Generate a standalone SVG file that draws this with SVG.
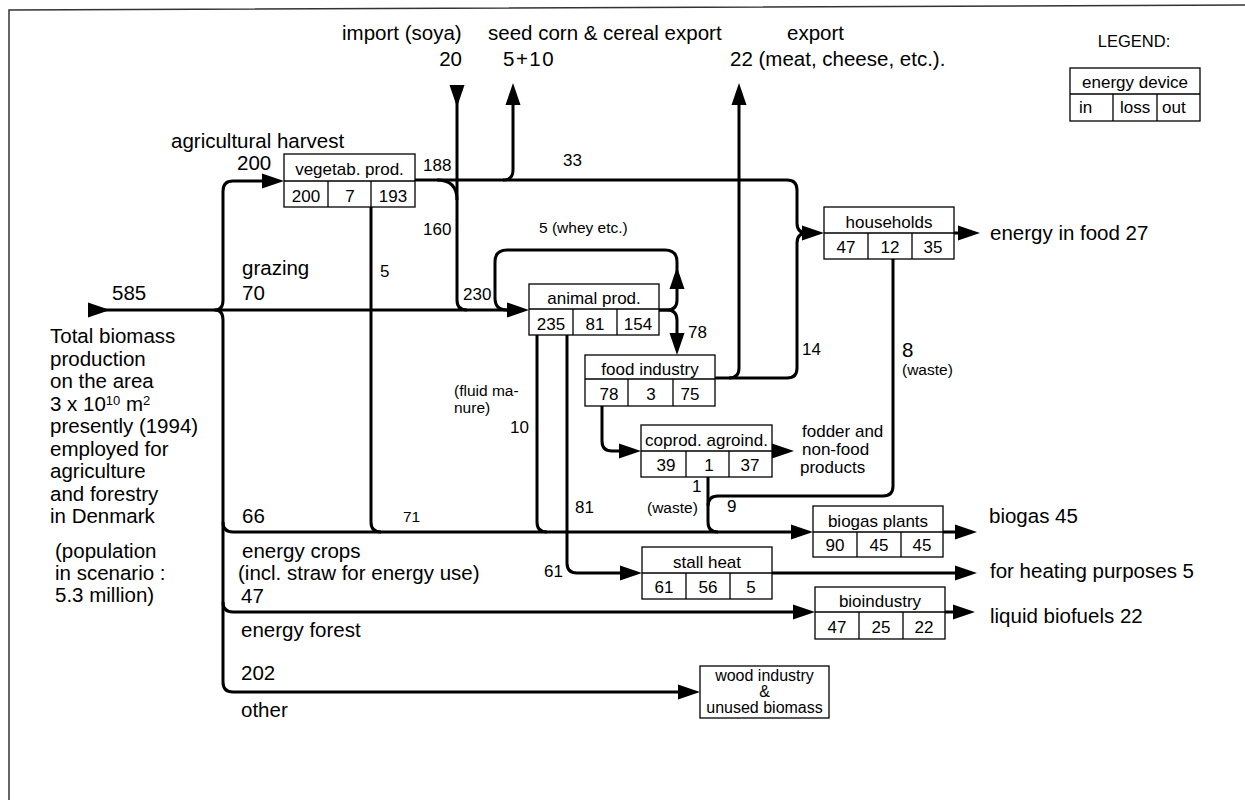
<svg xmlns="http://www.w3.org/2000/svg" xmlns:xlink="http://www.w3.org/1999/xlink" width="1245" height="800" viewBox="0 0 1245 800">
<style>
text{font-family:"Liberation Sans",Arial,sans-serif;fill:#000}
.L{font-size:20.5px}
.M{font-size:17px}
.S{font-size:15.5px}
.sup{font-size:13px}
.node rect{fill:#fff;stroke:#000;stroke-width:1.3}
.node path{fill:none;stroke:#000;stroke-width:1.3}
.node text{font-size:17px;text-anchor:middle}
.conn path{fill:none;stroke:#000;stroke-width:3;stroke-linejoin:round}
.conn use{fill:#000}
.frame{fill:none;stroke:#333;stroke-width:1.5}
</style>
<defs>
<path id="ah" d="M0,0 L-22,-7.5 L-22,7.5 Z"/>
</defs>
<rect width="1245" height="800" fill="#fff"/>
<path class="frame" d="M9,800 V10 L1245,5"/>

<g id="connectors" class="conn">
<path d="M100,310 H520"/>
<path d="M223,300 V191 Q223,181 233,181 H276"/>
<path d="M223,300 Q223,310 215,310 Q223,310 223,320 V682 Q223,692 233,692 H692"/>
<path d="M223,522 Q223,532 233,532 H805"/>
<path d="M223,602 Q223,612 233,612 H807"/>
<path d="M371,207 V522 Q371,532 381,532"/>
<path d="M415,180 H787 Q797,180 797,190 V223 Q797,233 807,233 H816"/>
<path d="M437,180 Q457,180 457,200"/>
<path d="M457,100 V300 Q457,310 467,310"/>
<path d="M503,180 Q513,180 513,170 V100"/>
<path d="M659,310 H667 Q677,310 677,300 V280"/>
<path d="M677,275 V262 Q677,250 665,250 H507 Q495,250 495,262 V298 Q495,310 507,310"/>
<path d="M659,310 H667 Q677,310 677,320 V345"/>
<path d="M537,335 V522 Q537,532 547,532"/>
<path d="M567,335 V563 Q567,573 577,573 H634"/>
<path d="M715,378 H729 Q739,378 739,368 V100"/>
<path d="M729,378 H787 Q797,378 797,368 V243 Q797,233 807,233"/>
<path d="M602,406 V441 Q602,451 612,451 H634"/>
<path d="M708,477 V522 Q708,532 718,532"/>
<path d="M893,259 V486 Q893,496 883,496 H718 Q708,496 708,506"/>
<path d="M954,233 H962"/>
<path d="M943,532 H960"/>
<path d="M772,573 H960"/>
<path d="M945,612 H958"/>
<use xlink:href="#ah" href="#ah" transform="translate(110,310)"/>
<use xlink:href="#ah" href="#ah" transform="translate(284,181)"/>
<use xlink:href="#ah" href="#ah" transform="translate(529,310)"/>
<use xlink:href="#ah" href="#ah" transform="translate(457,107) rotate(90)"/>
<use xlink:href="#ah" href="#ah" transform="translate(513,83) rotate(-90)"/>
<use xlink:href="#ah" href="#ah" transform="translate(739,83) rotate(-90)"/>
<use xlink:href="#ah" href="#ah" transform="translate(824,233)"/>
<use xlink:href="#ah" href="#ah" transform="translate(980,233)"/>
<use xlink:href="#ah" href="#ah" transform="translate(677,267) rotate(-90)"/>
<use xlink:href="#ah" href="#ah" transform="translate(677,355) rotate(90)"/>
<use xlink:href="#ah" href="#ah" transform="translate(641,451)"/>
<use xlink:href="#ah" href="#ah" transform="translate(794,451)"/>
<use xlink:href="#ah" href="#ah" transform="translate(813,532)"/>
<use xlink:href="#ah" href="#ah" transform="translate(977,532)"/>
<use xlink:href="#ah" href="#ah" transform="translate(642,573)"/>
<use xlink:href="#ah" href="#ah" transform="translate(977,573)"/>
<use xlink:href="#ah" href="#ah" transform="translate(815,612)"/>
<use xlink:href="#ah" href="#ah" transform="translate(975,612)"/>
<use xlink:href="#ah" href="#ah" transform="translate(700,692)"/>
</g>

<g id="vegetab" class="node">
<rect x="284" y="154" width="131" height="53"/>
<path d="M284,181 H415 M328,181 V207 M371,181 V207"/>
<text x="349.5" y="175">vegetab. prod.</text>
<text x="306" y="202">200</text><text x="350" y="202">7</text><text x="393" y="202">193</text>
</g>
<g id="animal" class="node">
<rect x="529" y="284" width="130" height="51"/>
<path d="M529,309 H659 M573,309 V335 M617,309 V335"/>
<text x="594" y="304">animal prod.</text>
<text x="551" y="330">235</text><text x="595" y="330">81</text><text x="638" y="330">154</text>
</g>
<g id="food" class="node">
<rect x="585" y="355" width="130" height="51"/>
<path d="M585,379 H715 M628,379 V406 M673,379 V406"/>
<text x="650" y="375">food industry</text>
<text x="609" y="400">78</text><text x="651" y="400">3</text><text x="690" y="400">75</text>
</g>
<g id="households" class="node">
<rect x="824" y="207" width="130" height="52"/>
<path d="M824,233 H954 M868,233 V259 M912,233 V259"/>
<text x="889" y="228">households</text>
<text x="846" y="253">47</text><text x="890" y="253">12</text><text x="933" y="253">35</text>
</g>
<g id="coprod" class="node">
<rect x="641" y="425" width="131" height="52"/>
<path d="M641,451 H772 M686,451 V477 M729,451 V477"/>
<text x="706.5" y="446">coprod. agroind.</text>
<text x="666" y="471">39</text><text x="709" y="471">1</text><text x="750" y="471">37</text>
</g>
<g id="biogas" class="node">
<rect x="813" y="506" width="130" height="51"/>
<path d="M813,532 H943 M857,532 V557 M901,532 V557"/>
<text x="878" y="527">biogas plants</text>
<text x="835" y="551">90</text><text x="879" y="551">45</text><text x="922" y="551">45</text>
</g>
<g id="stallheat" class="node">
<rect x="642" y="547" width="130" height="52"/>
<path d="M642,573 H772 M686,573 V599 M730,573 V599"/>
<text x="707" y="568">stall heat</text>
<text x="664" y="593">61</text><text x="708" y="593">56</text><text x="751" y="593">5</text>
</g>
<g id="bioindustry" class="node">
<rect x="815" y="587" width="130" height="52"/>
<path d="M815,612 H945 M859,612 V639 M903,612 V639"/>
<text x="880" y="607">bioindustry</text>
<text x="837" y="633">47</text><text x="881" y="633">25</text><text x="924" y="633">22</text>
</g>
<g id="wood" class="node">
<rect x="700" y="666" width="129" height="52"/>
<text x="764.5" y="681" style="font-size:16px">wood industry</text>
<text x="764.5" y="697" style="font-size:16px">&amp;</text>
<text x="764.5" y="713" style="font-size:16px">unused biomass</text>
</g>
<g id="legend" class="node">
<text x="1134" y="47" style="font-size:16.5px">LEGEND:</text>
<rect x="1070" y="68" width="130" height="53"/>
<path d="M1070,94 H1200 M1113,94 V121 M1157,94 V121"/>
<text x="1135" y="88">energy device</text>
<text x="1079" y="113" style="text-anchor:start">in</text>
<text x="1120" y="113" style="text-anchor:start">loss</text>
<text x="1162" y="113" style="text-anchor:start">out</text>
</g>

<g id="labels">
<text class="L" x="342" y="40">import (soya)</text>
<text class="L" x="462" y="66" text-anchor="end">20</text>
<text class="L" x="488" y="40">seed corn &amp; cereal export</text>
<text class="L" x="503" y="66" letter-spacing="1.5">5+10</text>
<text class="L" x="787" y="40">export</text>
<text class="L" x="730" y="66">22 (meat, cheese, etc.).</text>
<text class="L" x="171" y="148">agricultural harvest</text>
<text class="L" x="237" y="170">200</text>
<text class="L" x="112" y="300">585</text>
<text class="L" x="242" y="275">grazing</text>
<text class="L" x="242" y="300">70</text>
<text class="L" x="50" y="343">Total biomass</text>
<text class="L" x="50" y="365.5">production</text>
<text class="L" x="50" y="388">on the area</text>
<text class="L" x="50" y="411">3 x 10<tspan class="sup" dy="-6">10</tspan><tspan dy="6"> m</tspan><tspan class="sup" dy="-6">2</tspan></text>
<text class="L" x="50" y="433">presently (1994)</text>
<text class="L" x="50" y="455.5">employed for</text>
<text class="L" x="50" y="478">agriculture</text>
<text class="L" x="50" y="500.5">and forestry</text>
<text class="L" x="50" y="523">in Denmark</text>
<text class="L" x="55" y="558">(population</text>
<text class="L" x="55" y="580">in scenario :</text>
<text class="L" x="55" y="602">5.3 million)</text>
<text class="L" x="242" y="523">66</text>
<text class="L" x="242" y="558">energy crops</text>
<text class="L" x="238" y="580">(incl. straw for energy use)</text>
<text class="L" x="241" y="603">47</text>
<text class="L" x="241" y="637">energy forest</text>
<text class="L" x="241" y="680">202</text>
<text class="L" x="241" y="717">other</text>
<text class="L" x="990" y="240">energy in food 27</text>
<text class="L" x="989" y="523">biogas 45</text>
<text class="L" x="990" y="578">for heating purposes 5</text>
<text class="L" x="990" y="623">liquid biofuels 22</text>
<text class="L" x="902" y="357">8</text>
<text class="S" x="902" y="375">(waste)</text>
<text class="M" x="423" y="171">188</text>
<text class="M" x="423" y="235">160</text>
<text class="M" x="380" y="277">5</text>
<text class="M" x="563" y="166">33</text>
<text class="S" x="539" y="233">5 (whey etc.)</text>
<text class="M" x="463" y="300">230</text>
<text class="M" x="688" y="338">78</text>
<text class="M" x="802" y="355">14</text>
<text class="S" x="454" y="396">(fluid ma-</text>
<text class="S" x="454" y="413">nure)</text>
<text class="M" x="510" y="433">10</text>
<text class="M" x="575" y="513">81</text>
<text class="M" x="544" y="577">61</text>
<text class="S" x="403" y="522">71</text>
<text class="M" x="692" y="492">1</text>
<text class="S" x="647" y="513">(waste)</text>
<text class="M" x="727" y="512">9</text>
<text class="M" x="802" y="437">fodder and</text>
<text class="M" x="802" y="455">non-food</text>
<text class="M" x="800" y="473">products</text>
</g>
</svg>
